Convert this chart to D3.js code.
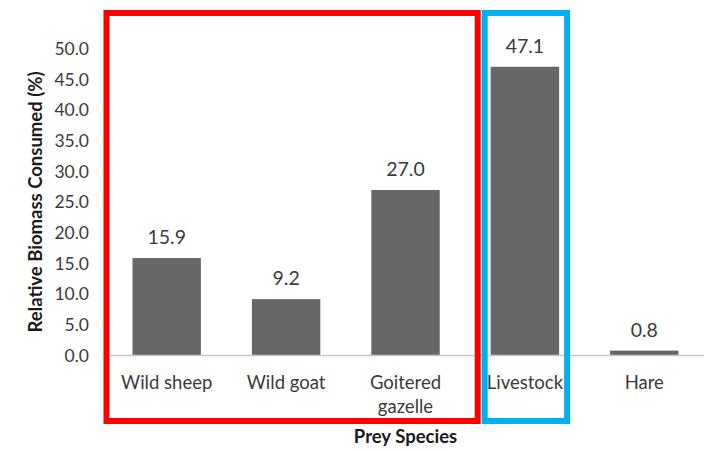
<!DOCTYPE html>
<html>
<head>
<meta charset="utf-8">
<script src="https://cdn.jsdelivr.net/npm/d3@7"></script>
<style>
  html, body { margin: 0; padding: 0; background: #fff; }
  svg { display: block; font-family: Lato, "Open Sans", sans-serif; }
</style>
</head>
<body>
<svg id="chart" width="715" height="451"></svg>
<script>
// Prey species and share of biomass consumed (%)
const categories = ["Wild sheep", "Wild goat", "Goitered gazelle", "Livestock", "Hare"];
const categoryLines = [["Wild sheep"], ["Wild goat"], ["Goitered", "gazelle"], ["Livestock"], ["Hare"]];
const biomass = [15.9, 9.2, 27.0, 47.1, 0.8];
const yTicks = [0, 5, 10, 15, 20, 25, 30, 35, 40, 45, 50];

// Highlight frames: wild prey vs. domestic livestock
const groups = [
  { first: "Wild sheep", last: "Goitered gazelle", color: "#ff0000", padLeft: 26, padRight: 38 },
  { first: "Livestock", last: "Livestock", color: "#00b0f0", padLeft: 6, padRight: 8 }
];

const svg = d3.select("#chart");
const margin = { left: 107, right: 11, top: 49, bottom: 96 };
const W = 715, H = 451;

const x = d3.scaleBand()
  .domain(categories)
  .range([margin.left, W - margin.right])
  .paddingInner(0.427)
  .paddingOuter(0.2135);

const y = d3.scaleLinear()
  .domain([0, 50])
  .range([H - margin.bottom + 0.5, margin.top]);

const textColor = "#3a3a3a";

// Y axis: labels only, no line or ticks
const yAxis = svg.append("g")
  .attr("transform", `translate(${margin.left - 18},0)`)
  .call(d3.axisLeft(y).tickValues(yTicks).tickFormat(d3.format(".1f")).tickSize(0).tickPadding(0));
yAxis.select(".domain").remove();
yAxis.selectAll("text")
  .attr("fill", textColor)
  .attr("font-size", 17.5)
  .attr("font-family", "Lato, sans-serif");

// Bars
svg.append("g").selectAll("rect")
  .data(biomass)
  .join("rect")
  .attr("x", (d, i) => x(categories[i]))
  .attr("width", x.bandwidth())
  .attr("y", d => y(d))
  .attr("height", d => y(0) - y(d))
  .attr("fill", "#676767");

// Baseline
svg.append("line")
  .attr("x1", x.range()[0] + 3).attr("x2", x.range()[1])
  .attr("y1", y(0)).attr("y2", y(0))
  .attr("stroke", "#c8c8c8").attr("stroke-width", 1.5);

// Value labels
svg.append("g").selectAll("text")
  .data(biomass)
  .join("text")
  .attr("x", (d, i) => x(categories[i]) + x.bandwidth() / 2)
  .attr("y", d => y(d) - 14)
  .attr("text-anchor", "middle")
  .attr("font-size", 19.5)
  .attr("fill", textColor)
  .text(d => d.toFixed(1));

// Category labels
const catG = svg.append("g");
categoryLines.forEach((lines, i) => {
  const t = catG.append("text")
    .attr("x", x(categories[i]) + x.bandwidth() / 2)
    .attr("y", y(0) + 33)
    .attr("text-anchor", "middle")
    .attr("font-size", 18.5)
    .attr("fill", textColor);
  lines.forEach((ln, j) => {
    t.append("tspan")
      .attr("x", x(categories[i]) + x.bandwidth() / 2)
      .attr("dy", j === 0 ? 0 : 24)
      .text(ln);
  });
});

// Axis titles
svg.append("text")
  .attr("x", x("Goitered gazelle") + x.bandwidth() / 2)
  .attr("y", 443)
  .attr("text-anchor", "middle")
  .attr("font-size", 18.5)
  .attr("font-weight", "bold")
  .attr("fill", "#1a1a1a")
  .text("Prey Species");

svg.append("text")
  .attr("transform", `translate(42,${202}) rotate(-90)`)
  .attr("text-anchor", "middle")
  .attr("font-size", 18.5)
  .attr("font-weight", "bold")
  .attr("fill", "#1a1a1a")
  .text("Relative Biomass Consumed (%)");

// Group frames
svg.append("g").selectAll("rect")
  .data(groups)
  .join("rect")
  .attr("x", g => x(g.first) - g.padLeft)
  .attr("width", g => x(g.last) + x.bandwidth() + g.padRight - (x(g.first) - g.padLeft))
  .attr("y", 13)
  .attr("height", 408)
  .attr("fill", "none")
  .attr("stroke", g => g.color)
  .attr("stroke-width", 6);
</script>
</body>
</html>
